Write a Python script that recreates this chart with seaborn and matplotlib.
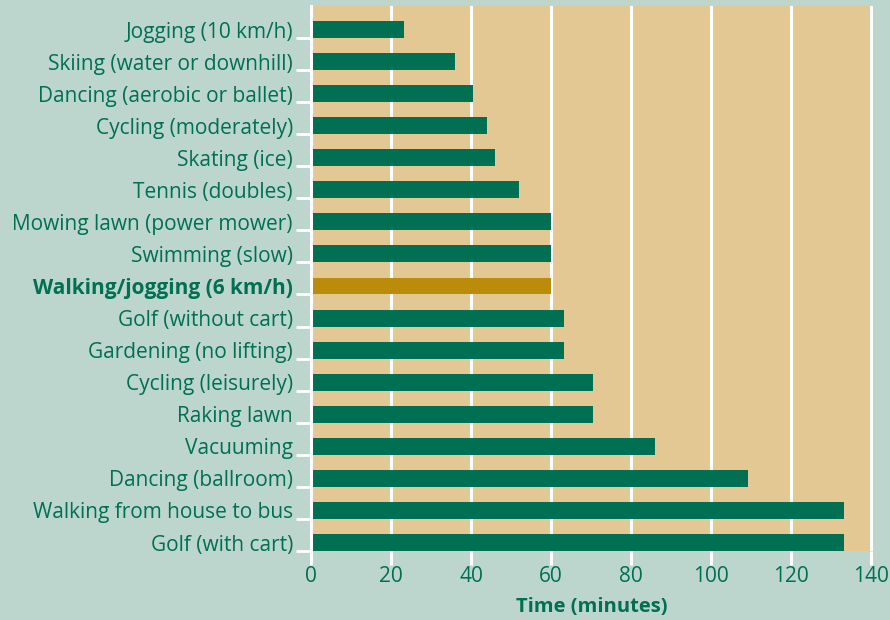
import matplotlib
matplotlib.use("Agg")
import matplotlib.pyplot as plt
import seaborn as sns
import pandas as pd
import numpy as np

activities = [
    "Jogging (10 km/h)",
    "Skiing (water or downhill)",
    "Dancing (aerobic or ballet)",
    "Cycling (moderately)",
    "Skating (ice)",
    "Tennis (doubles)",
    "Mowing lawn (power mower)",
    "Swimming (slow)",
    "Walking/jogging (6 km/h)",
    "Golf (without cart)",
    "Gardening (no lifting)",
    "Cycling (leisurely)",
    "Raking lawn",
    "Vacuuming",
    "Dancing (ballroom)",
    "Walking from house to bus",
    "Golf (with cart)",
]
minutes = [23.25, 36, 40.5, 44, 46, 52, 60, 60, 60, 63.25, 63.25, 70.5, 70.5, 86, 109.25, 133.25, 133.25]
highlight = "Walking/jogging (6 km/h)"
x_ticks = [0, 20, 40, 60, 80, 100, 120, 140]

GREEN = "#006f52"
GOLD = "#bb8b0a"
TEAL = "#bcd6ce"
TAN = "#e3c894"

df = pd.DataFrame({"activity": activities, "minutes": minutes})
palette = {a: (GOLD if a == highlight else GREEN) for a in activities}

sns.set_theme(style="white")
plt.rcParams["font.family"] = ["Open Sans", "DejaVu Sans"]

fig = plt.figure(figsize=(8.9, 6.2), dpi=100, facecolor=TEAL)
ax = fig.add_axes([311 / 890, 1 - 551 / 620, (873 - 311) / 890, (551 - 6) / 620])
ax.set_facecolor(TAN)

bar_h = 0.53
sns.barplot(data=df, x="minutes", y="activity", hue="activity", palette=palette,
            orient="h", width=bar_h, legend=False, ax=ax, saturation=1,
            linewidth=0, edgecolor="none")

n = len(activities)
ax.set_ylim(n - 1 + bar_h / 2, -0.733)
ax.set_xlim(0, 140.5)

ax.set_xticks(x_ticks)
ax.set_xticklabels([str(t) for t in x_ticks])
ax.grid(axis="x", color="white", linewidth=2.2)
ax.grid(axis="y", visible=False)
ax.set_axisbelow(True)

for s in ["top", "right", "bottom"]:
    ax.spines[s].set_visible(False)
ax.spines["left"].set_color("white")
ax.spines["left"].set_linewidth(2.2)

ax.set_yticks(np.arange(n))
ax.set_yticklabels(activities)
ax.set_yticks(np.arange(n) + bar_h / 2, minor=True)
ax.tick_params(axis="y", which="major", length=0, pad=13, labelsize=15, labelcolor=GREEN)
ax.tick_params(axis="y", which="minor", length=11, width=2, color="white", left=True)
ax.tick_params(axis="x", which="major", length=10, width=2.2, color="white", bottom=True,
               labelsize=15, labelcolor=GREEN, pad=1)

for lbl in ax.get_yticklabels():
    if lbl.get_text() == highlight:
        lbl.set_fontweight("bold")

ax.set_ylabel("")
ax.set_xlabel("Time (minutes)", fontsize=14.5, fontweight="bold", color=GREEN, labelpad=7)

fig.savefig("out.png", dpi=100, facecolor=TEAL)
